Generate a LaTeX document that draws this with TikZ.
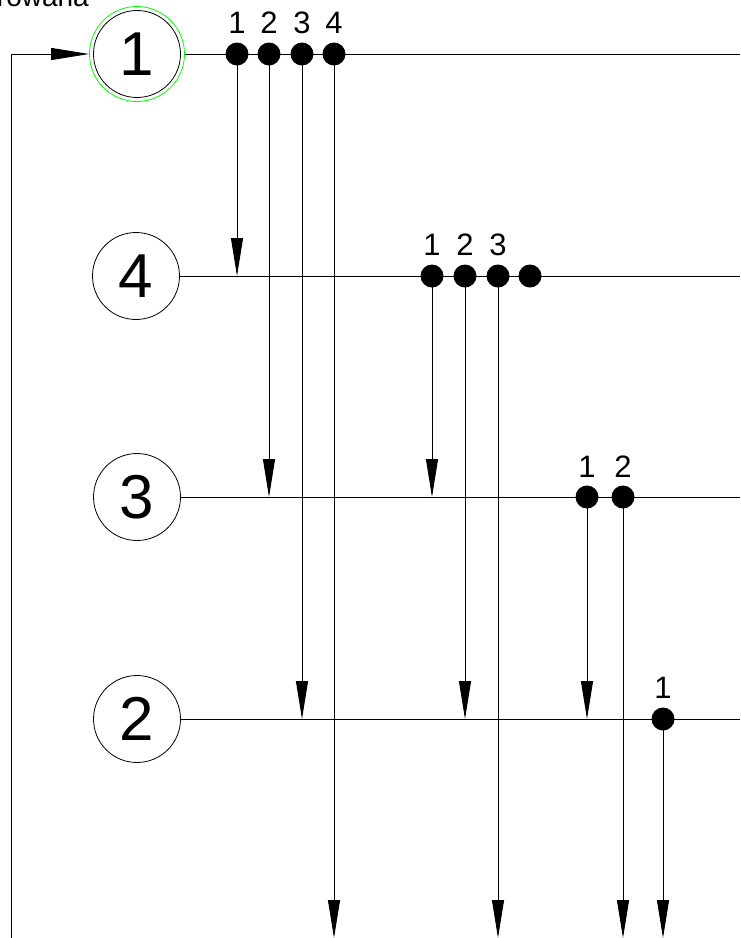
\documentclass[tikz,border=0pt]{standalone}
\usepackage{fontspec}
\setmainfont{Liberation Sans}
\usetikzlibrary{arrows.meta}
\begin{document}
\begin{tikzpicture}[x=1pt,y=-1pt,
  ln/.style={line width=0.9pt},
  arr/.style={ln,-{Triangle[length=38pt,width=12pt]}},
  big/.style={circle,draw,line width=0.8pt,minimum size=87pt,inner sep=0pt,font=\fontsize{62}{62}\selectfont},
  dot/.style={circle,fill=black,minimum size=23pt,inner sep=0pt},
  lab/.style={anchor=base,inner sep=0pt,font=\fontsize{31}{31}\selectfont}]
\useasboundingbox (0,0) rectangle (740,938);
\clip (0,0) rectangle (740,938);
% title (cut off)
\node[anchor=base east,inner sep=0pt,font=\fontsize{28}{28}\selectfont] (title) at (89,6) {rowana};
% circles
\node[circle,draw=green,line width=0.8pt,minimum size=95pt,inner sep=0pt] (c1) at (137,54) {};
\node[big] (c1in) at (137,54) {1};
\node[big] (c4) at (136,276) {4};
\node[big] (c3) at (137,497) {3};
\node[big] (c2) at (137,719) {2};
% row end coordinates
\coordinate (e1) at (740,54);
\coordinate (e4) at (740,276);
\coordinate (e3) at (740,497);
\coordinate (e2) at (740,719);
\coordinate (fb) at (11,938);
% row lines
\draw[ln] (c1.east) -- (e1);
\draw[ln] (c4.east) -- (e4);
\draw[ln] (c3.east) -- (e3);
\draw[ln] (c2.east) -- (e2);
% feedback
\draw[arr] (fb) |- (c1.west);
% dot coordinates
\coordinate (p11) at (237,54);
\coordinate (p12) at (269,54);
\coordinate (p13) at (302,54);
\coordinate (p14) at (334,54);
\coordinate (p41) at (432,276);
\coordinate (p42) at (465,276);
\coordinate (p43) at (498,276);
\coordinate (p44) at (530,276);
\coordinate (p31) at (587,497);
\coordinate (p32) at (623,497);
\coordinate (p21) at (663,719);
% bottom ends
\coordinate (b14) at (334,938);
\coordinate (b43) at (498,938);
\coordinate (b32) at (623,938);
\coordinate (b21) at (663,938);
% vertical arrows
\draw[arr] (p11) -- (p11 |- c4.center);
\draw[arr] (p12) -- (p12 |- c3.center);
\draw[arr] (p13) -- (p13 |- c2.center);
\draw[arr] (p14) -- (b14);
\draw[arr] (p41) -- (p41 |- c3.center);
\draw[arr] (p42) -- (p42 |- c2.center);
\draw[arr] (p43) -- (b43);
\draw[arr] (p31) -- (p31 |- c2.center);
\draw[arr] (p32) -- (b32);
\draw[arr] (p21) -- (b21);
% dots
\foreach \p in {11,12,13,14,41,42,43,44,31,32,21}{
  \node[dot] (d\p) at (p\p) {};
}
% labels
\node[lab] (l11) at (237,33) {1};
\node[lab] (l12) at (269,33) {2};
\node[lab] (l13) at (302,33) {3};
\node[lab] (l14) at (334,33) {4};
\node[lab] (l41) at (432,255) {1};
\node[lab] (l42) at (465,255) {2};
\node[lab] (l43) at (498,255) {3};
\node[lab] (l31) at (587,477) {1};
\node[lab] (l32) at (623,477) {2};
\node[lab] (l21) at (663,698) {1};
\end{tikzpicture}
\end{document}
